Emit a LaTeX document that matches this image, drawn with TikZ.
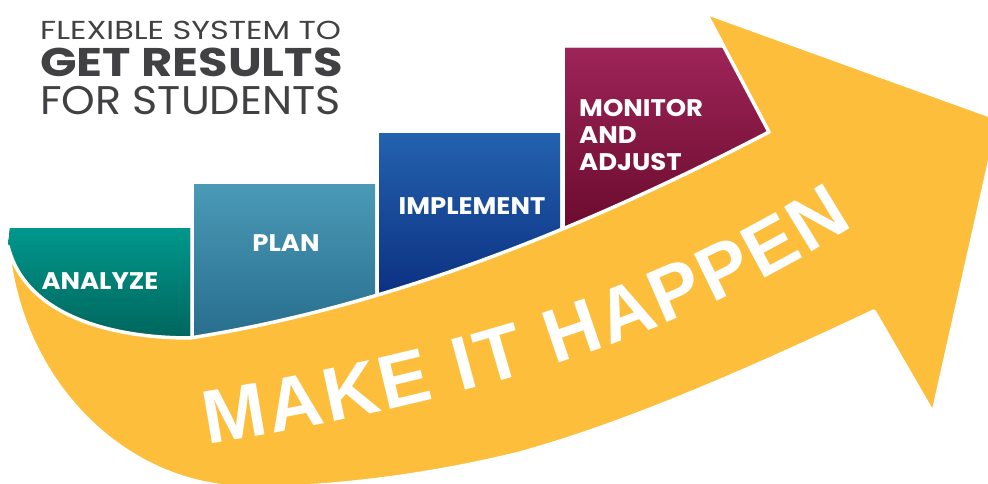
\documentclass[tikz,border=0pt]{standalone}
\usepackage{fontspec}
\setmainfont{Poppins}
\newfontfamily\arrowfont{Liberation Sans}
\usetikzlibrary{decorations.text}
\definecolor{arrowyellow}{HTML}{FDBE3C}
\definecolor{titlegray}{HTML}{414042}
\definecolor{tealtop}{HTML}{00978C}
\definecolor{tealbot}{HTML}{00665D}
\definecolor{plantop}{HTML}{4A9AB6}
\definecolor{planbot}{HTML}{276C8C}
\definecolor{impltop}{HTML}{2362AE}
\definecolor{implbot}{HTML}{0B2E80}
\definecolor{montop}{HTML}{9D2458}
\definecolor{monbot}{HTML}{680A2A}
\tikzset{
  stepbox/.style 2 args={top color=#1, bottom color=#2, draw=none},
  steplabel/.style={text=white, font=\bfseries\fontsize{24}{27}\selectfont\addfontfeature{FakeStretch=1.08}, inner sep=0pt},
  titleline/.style={text=titlegray, inner sep=0pt, anchor=base west},
}

\begin{document}
\begin{tikzpicture}[x=1pt,y=-1pt]
\useasboundingbox (0,0) rectangle (988,484);
\clip (0,0) rectangle (988,484);
\coordinate (tl) at (8,246);
\coordinate (low) at (190,338);
\coordinate (inner) at (769,132);
\coordinate (barb) at (706,13);
\coordinate (tip) at (999,119);
\coordinate (barb2) at (933,413);
\coordinate (inner2) at (874,311);
\coordinate (mid) at (520,453);
\coordinate (bot) at (235,487);

\fill[stepbox={tealtop}{tealbot}] (10,228) -- (190,228) -- (low) .. controls (110,338) and (25,315) .. (tl) -- cycle;
\fill[stepbox={plantop}{planbot}] (194,184) rectangle (375,342);
\fill[stepbox={impltop}{implbot}] (379,134) rectangle (560,302);
\fill[stepbox={montop}{monbot}] (565,48) -- (724.5,48) -- (775,143) -- (565,240) -- cycle;

\filldraw[fill=arrowyellow, draw=white, line width=3.5pt, line join=round] (tl) .. controls (25,315) and (110,338) .. (low) .. controls (400,305) and (600,220) .. (inner) -- (barb) -- (tip) -- (barb2) -- (inner2) .. controls (780,355) and (640,420) .. (mid) .. controls (420,478) and (310,490) .. (bot) .. controls (120,480) and (20,380) .. (tl) -- cycle;

\node[titleline, font=\fontsize{26}{26}\selectfont\addfontfeature{FakeStretch=1.23}] (flex) at (40,40) {FLEXIBLE SYSTEM TO};
\node[titleline, font=\bfseries\fontsize{40}{40}\selectfont\addfontfeature{FakeStretch=1.2}] (get) at (40,77) {GET RESULTS};
\node[titleline, font=\fontsize{40}{40}\selectfont\addfontfeature{FakeStretch=1.07}] (for) at (40,115) {FOR STUDENTS};

\node[steplabel, anchor=base] (analyze) at (100,289) {ANALYZE};
\node[steplabel, anchor=base] (plan) at (286,251) {PLAN};
\node[steplabel, anchor=base] (implement) at (472,214) {IMPLEMENT};
\node[steplabel, anchor=base west] (monitor) at (579,117) {MONITOR};
\node[steplabel, anchor=base west] (and) at (579,143) {AND};
\node[steplabel, anchor=base west] (adjust) at (579,171) {ADJUST};

\path[decorate, decoration={text along path, text align=fit to path, text color=white,
  text={|\arrowfont\bfseries\fontsize{76}{76}\selectfont|MAKE IT HAPPEN}}]
  (207,444) .. controls (420,410) and (660,352) .. (854,226);
\end{tikzpicture}
\end{document}
